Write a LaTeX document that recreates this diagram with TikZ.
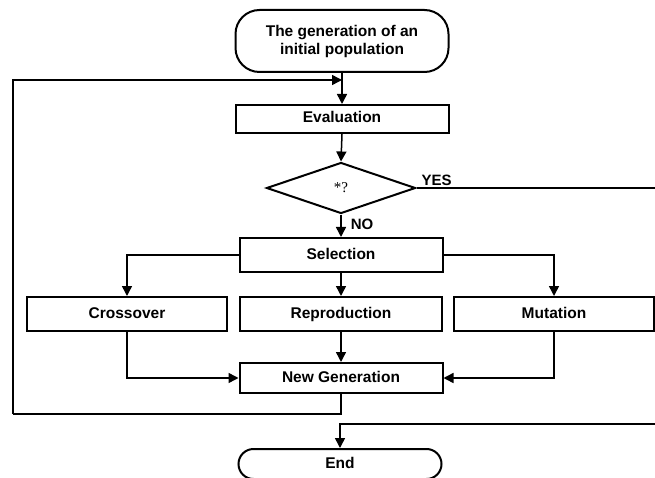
\documentclass[tikz,border=0pt]{standalone}
\usepackage{fontspec}
\setmainfont{Liberation Sans}
\newfontfamily\serifface{Liberation Serif}
\usepackage{tikz}
\usetikzlibrary{calc, positioning, arrows.meta, shapes.geometric}

\begin{document}
\begin{tikzpicture}[
  x=1pt, y=-1pt,
  >={Triangle[length=10pt, width=10pt]},
  line/.style={line width=1.5pt},
  stepbox/.style={draw, line width=2pt, rectangle, minimum width=#1,
                  minimum height=30pt, inner sep=2pt,
                  text height=11pt, text depth=3pt,
                  font=\fontsize{15.5}{18}\selectfont\bfseries},
  stepbox/.default=203pt,
  terminal/.style={stepbox=#1, rounded corners=15pt, align=center},
  test/.style={draw, line width=2pt, diamond, aspect=2.9, inner sep=0pt,
               minimum width=149pt, minimum height=51pt,
               font=\fontsize{15}{17}\serifface},
  answer/.style={font=\fontsize{15}{17}\selectfont\bfseries, inner sep=1pt}
]
\useasboundingbox (0,0) rectangle (655,478);

% ---------- Boucle principale ----------
\node[terminal=213pt, minimum height=62pt, rounded corners=24pt,
      text height=, text depth=] (start) at (342,41)
  {The generation of an\\[0pt] initial population};
\node[stepbox=213pt, minimum height=28pt] (eval) at (342,119) {Evaluation};
\node[test] (dec) at (341,188) {*?};
\node[stepbox, minimum height=34pt] (sel) at (341,255) {Selection};

% ---------- Opérateurs ----------
\node[stepbox=200pt, minimum height=34pt] (cross) at (127,314) {Crossover};
\node[stepbox=202pt, minimum height=34pt] (repro) at (341,314) {Reproduction};
\node[stepbox=200pt, minimum height=34pt] (mut) at (554,314) {Mutation};
\node[stepbox] (newgen) at (341,378) {New Generation};
\node[terminal, minimum height=30pt] (end) at (340,464) {End};

% ---------- Points de passage ----------
\coordinate (join) at (342,80);
\coordinate (loopBL) at (13,414);
\coordinate (yesBR) at (662,424);

% ---------- Flèches ----------
\draw[line, ->] (start) -- (eval);
\draw[line, ->] (eval.south) -- (dec.north);
\draw[line, ->] (dec) -- (sel)
  node[answer, pos=0.45, right=8pt] (no) {NO};
\draw[line, ->] (sel.west) -| (cross.north);
\draw[line, ->] (sel) -- (repro);
\draw[line, ->] (sel.east) -| (mut.north);
\draw[line, ->] (cross.south) |- (newgen.west);
\draw[line, ->] (repro) -- (newgen);
\draw[line, ->] (mut.south) |- (newgen.east);
% retour vers l'évaluation
\draw[line] (newgen.south) |- (loopBL);
\draw[line, ->] (loopBL) |- (join);
% sortie YES vers la fin
\node[answer, above right=1pt and 4pt of dec.east] (yes) {YES};
\draw[line] (dec.east) -| (yesBR);
\draw[line, ->] (yesBR) -| (end.north);

\end{tikzpicture}
\end{document}
